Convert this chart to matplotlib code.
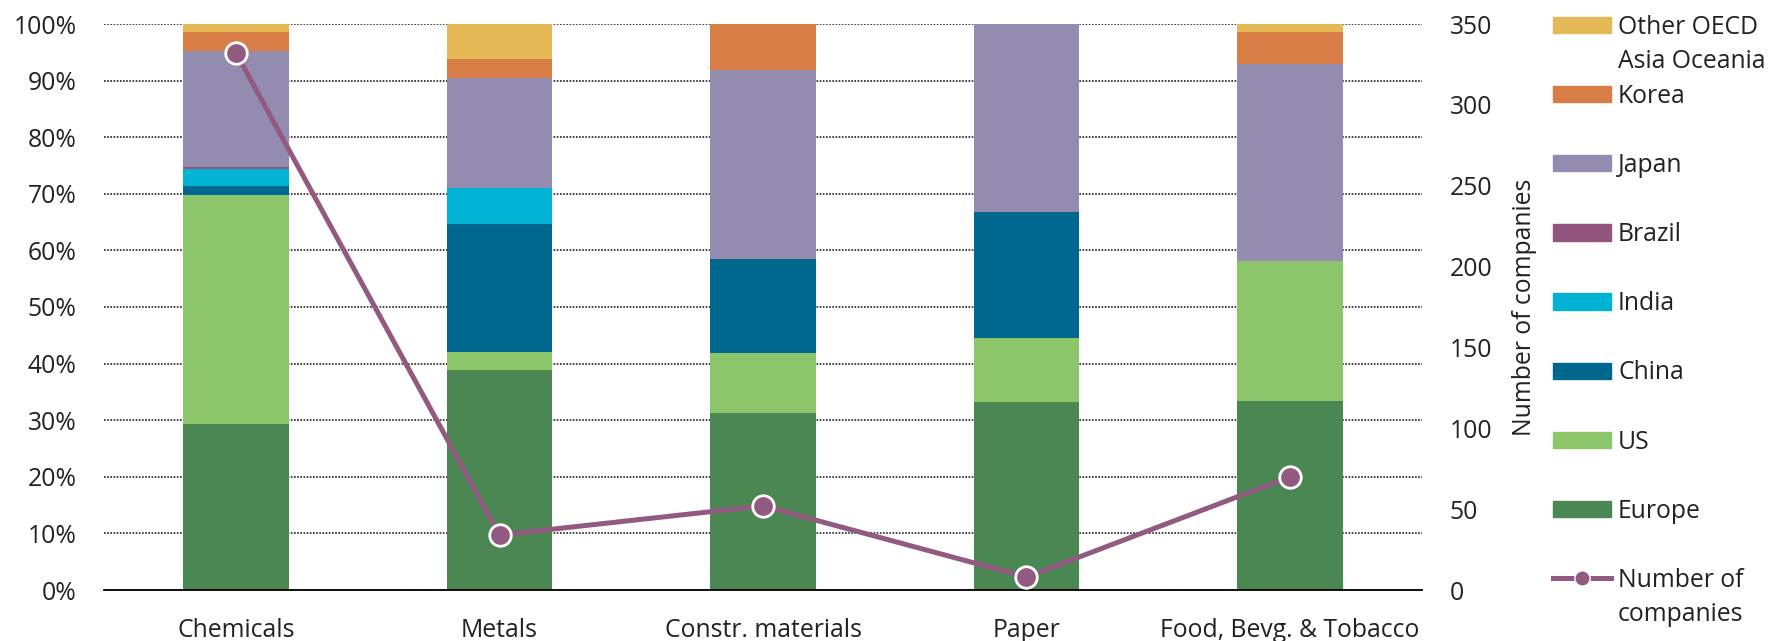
import matplotlib
matplotlib.use("Agg")
import matplotlib.pyplot as plt
import numpy as np
from matplotlib.patches import Patch
from matplotlib.lines import Line2D
from matplotlib.ticker import PercentFormatter

plt.rcParams["font.family"] = ["Open Sans", "DejaVu Sans"]

# Données (parts en %)
categories = ["Chemicals", "Metals", "Constr. materials", "Paper", "Food, Bevg. & Tobacco"]
europe = [29.4, 38.8, 31.2, 33.3, 33.4]
us = [40.4, 3.3, 10.7, 11.2, 24.7]
china = [1.6, 22.6, 16.5, 22.2, 0.0]
india = [2.9, 6.3, 0.0, 0.0, 0.0]
brazil = [0.5, 0.0, 0.0, 0.0, 0.0]
japan = [20.4, 19.5, 33.4, 33.3, 34.9]
korea = [3.3, 3.3, 8.2, 0.0, 5.5]
other_oecd = [1.5, 6.2, 0.0, 0.0, 1.5]
companies = [332, 34, 52, 8, 70]

series = [
    ("Europe", europe, "#4a8752"),
    ("US", us, "#8cc56a"),
    ("China", china, "#00688f"),
    ("India", india, "#00b3d4"),
    ("Brazil", brazil, "#91557e"),
    ("Japan", japan, "#948bb0"),
    ("Korea", korea, "#d87d46"),
    ("Other OECD", other_oecd, "#e5b955"),
]
line_color = "#925a80"
txt_color = "#222222"
fs = 17.8

W, H = 1773, 641
fig = plt.figure(figsize=(W / 100, H / 100), dpi=100)
ax = fig.add_axes([104.3 / W, 1 - 590 / H, (1421.7 - 104.3) / W, (590 - 24) / H])

x = np.arange(len(categories))
bottom = np.zeros(len(categories))
for nom, vals, col in series:
    v = np.array(vals) / 100
    ax.bar(x, v, width=0.4, bottom=bottom, color=col, zorder=2)
    bottom += v

ax.set_xlim(-0.5, 4.5)
ax.set_ylim(0, 1)
ax.set_yticks(np.arange(0, 1.01, 0.1))
ax.yaxis.set_major_formatter(PercentFormatter(1.0, decimals=0))
ax.set_xticks(x)
ax.set_xticklabels(categories)
ax.tick_params(axis="y", length=0, pad=20, labelsize=fs, colors=txt_color)
ax.tick_params(axis="x", length=0, pad=20, labelsize=fs, colors=txt_color)
ax.yaxis.grid(True, linestyle=(0, (1, 0.9)), color="#222222", lw=1.2)
ax.set_axisbelow(True)
for s in ["top", "right", "left"]:
    ax.spines[s].set_visible(False)
ax.spines["bottom"].set_linewidth(1.3)
ax.spines["bottom"].set_zorder(3)

# Axe secondaire : nombre d'entreprises
ax2 = ax.twinx()
ax2.plot(x, companies, color=line_color, lw=3.6, marker="o", ms=15.5,
         mfc=line_color, mec="white", mew=2, zorder=4, clip_on=False)
ax2.set_ylim(0, 350)
ax2.set_yticks(np.arange(0, 351, 50))
ax2.tick_params(axis="y", length=0, pad=20, labelsize=fs, colors=txt_color)
ax2.set_ylabel("Number of companies", fontsize=fs, labelpad=14, color=txt_color)
for s in ["top", "right", "left", "bottom"]:
    ax2.spines[s].set_visible(False)

# Légende
handles = [Patch(color=col) for nom, vals, col in reversed(series)]
labels = [nom for nom, vals, col in reversed(series)]
handles.append(Line2D([], [], color=line_color, lw=3.6, marker="o", ms=11,
                      mfc=line_color, mec="white", mew=1))
labels.append("Number of")
leg = ax2.legend(handles, labels, loc="upper left", bbox_to_anchor=(1553 / W, 0.977),
                 bbox_transform=fig.transFigure, frameon=False, fontsize=fs,
                 handlelength=2.35, handleheight=0.64, handletextpad=0.28,
                 labelspacing=1.785, borderpad=0, borderaxespad=0)
for t in leg.get_texts():
    t.set_color(txt_color)

fig.canvas.draw()
r = fig.canvas.get_renderer()
for i, suite in [(0, "Asia Oceania"), (len(labels) - 1, "companies")]:
    bb = leg.get_texts()[i].get_window_extent(r)
    yc = (bb.y0 + bb.y1) / 2 - 34
    fig.text(bb.x0 / W, yc / H, suite, fontsize=fs, va="center", ha="left", color=txt_color)

fig.savefig("out.png", dpi=100)
